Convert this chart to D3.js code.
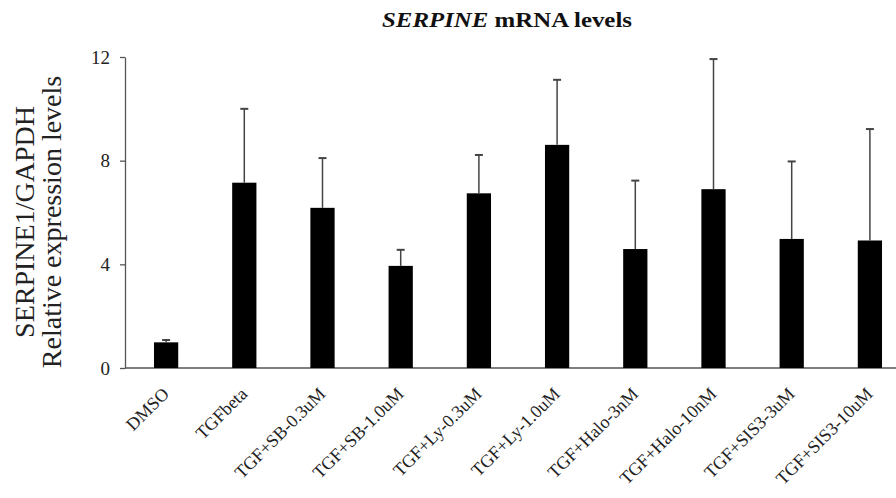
<!DOCTYPE html>
<html>
<head>
<meta charset="utf-8">
<script src="https://cdn.jsdelivr.net/npm/d3@7"></script>
<style>
  html, body { margin: 0; padding: 0; background: #fff; }
  svg { display: block; }
</style>
</head>
<body>
<svg id="chart" width="896" height="498"></svg>
<script>
const categories = ["DMSO", "TGFbeta", "TGF+SB-0.3uM", "TGF+SB-1.0uM", "TGF+Ly-0.3uM",
  "TGF+Ly-1.0uM", "TGF+Halo-3nM", "TGF+Halo-10nM", "TGF+SIS3-3uM", "TGF+SIS3-10uM"];
const means = [0.99, 7.15, 6.18, 3.94, 6.74, 8.61, 4.59, 6.90, 4.98, 4.92];
const errors = [0.09, 2.85, 1.92, 0.62, 1.48, 2.51, 2.64, 5.02, 2.99, 4.30];
const yTicks = [0, 4, 8, 12];

const svg = d3.select("#chart");
const serif = "'Liberation Serif', 'Times New Roman', serif";

const x = d3.scaleBand().domain(categories).range([127, 909]).paddingInner(0.69).paddingOuter(0.345);
const y = d3.scaleLinear().domain([0, 12]).range([368, 57]);

// Title
const title = svg.append("text")
  .attr("transform", "translate(507,27) scale(1.13,1)")
  .attr("text-anchor", "middle")
  .attr("font-family", serif)
  .attr("font-size", 22).attr("font-weight", "bold")
  .attr("fill", "#111");
title.append("tspan").attr("font-style", "italic").text("SERPINE");
title.append("tspan").text(" mRNA levels");

// Y axis
const yAxis = svg.append("g")
  .attr("transform", "translate(125,0)")
  .call(d3.axisLeft(y).tickValues(yTicks).tickSize(5).tickSizeOuter(0).tickPadding(10));
yAxis.selectAll("path, line").attr("stroke", "#555").attr("stroke-width", 1.3);
yAxis.selectAll("text").attr("font-family", serif).attr("font-size", 19).attr("fill", "#222");

// X axis line
svg.append("line")
  .attr("x1", 125).attr("x2", 896)
  .attr("y1", y(0)).attr("y2", y(0))
  .attr("stroke", "#555").attr("stroke-width", 1.3);

// Bars
svg.append("g").selectAll("rect").data(categories).join("rect")
  .attr("x", d => x(d))
  .attr("width", x.bandwidth())
  .attr("y", (d, i) => y(means[i]))
  .attr("height", (d, i) => y(0) - y(means[i]))
  .attr("fill", "#000");

// Error bars
const eb = svg.append("g");
categories.forEach((c, i) => {
  const cx = x(c) + x.bandwidth() / 2;
  eb.append("line")
    .attr("x1", cx).attr("x2", cx)
    .attr("y1", y(means[i])).attr("y2", y(means[i] + errors[i]))
    .attr("stroke", "#444").attr("stroke-width", 1.5);
  eb.append("line")
    .attr("x1", cx - 4).attr("x2", cx + 4)
    .attr("y1", y(means[i] + errors[i])).attr("y2", y(means[i] + errors[i]))
    .attr("stroke", "#444").attr("stroke-width", 2);
});

// X labels
svg.append("g").selectAll("text").data(categories).join("text")
  .attr("transform", d => `translate(${x(d) + x.bandwidth() / 2 + 4},395) rotate(-45)`)
  .attr("text-anchor", "end")
  .attr("font-family", serif)
  .attr("font-size", 18)
  .attr("fill", "#222")
  .text(d => d);

// Y label
const yl = svg.append("text")
  .attr("transform", "translate(0,222) rotate(-90)")
  .attr("text-anchor", "middle")
  .attr("font-family", serif)
  .attr("font-size", 28)
  .attr("fill", "#222");
yl.append("tspan").attr("x", 0).attr("y", 34).text("SERPINE1/GAPDH");
yl.append("tspan").attr("x", 0).attr("y", 61).text("Relative expression levels");
</script>
</body>
</html>
